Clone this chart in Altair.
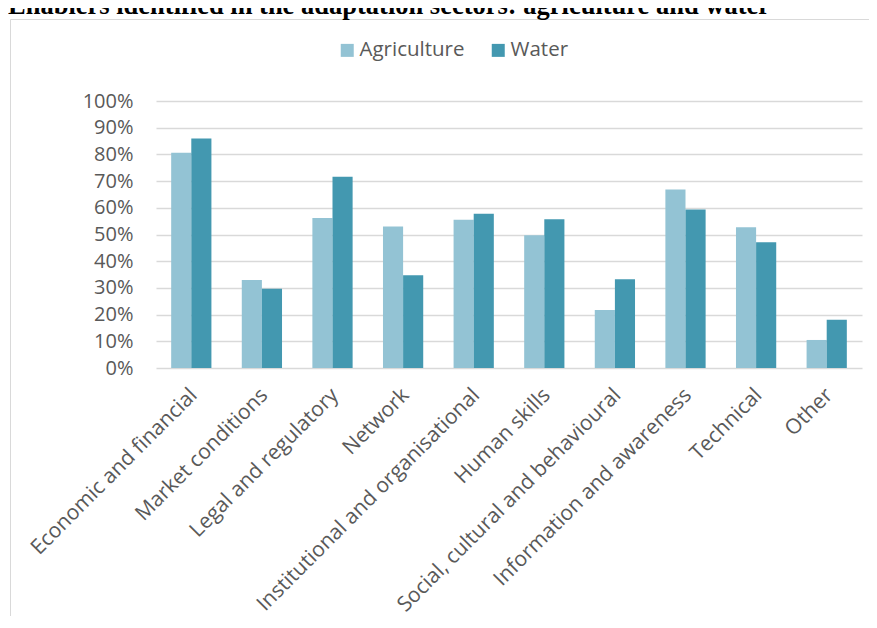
import altair as alt
import pandas as pd

title_text = "Enablers identified in the adaptation sectors: agriculture and water"
categories = [
    "Economic and financial",
    "Market conditions",
    "Legal and regulatory",
    "Network",
    "Institutional and organisational",
    "Human skills",
    "Social, cultural and behavioural",
    "Information and awareness",
    "Technical",
    "Other",
]
series = ["Agriculture", "Water"]
agriculture = [80.6, 33.0, 56.2, 53.0, 55.5, 49.7, 21.7, 66.9, 52.7, 10.5]
water = [86.0, 29.7, 71.6, 34.7, 57.8, 55.7, 33.2, 59.4, 47.1, 18.1]
colors = ["#93C3D4", "#4398B0"]
y_ticks = [i / 10 for i in range(11)]

rows = []
for c, a, w in zip(categories, agriculture, water):
    rows.append({"category": c, "series": "Agriculture", "value": a / 100})
    rows.append({"category": c, "series": "Water", "value": w / 100})
df = pd.DataFrame(rows)

FONT = "Open Sans"
TXT = "#595959"
W, H = 706, 267

bars = alt.Chart(df).mark_bar().encode(
    x=alt.X(
        "category:N",
        sort=categories,
        title=None,
        scale=alt.Scale(paddingInner=0.43, paddingOuter=0.215),
        axis=alt.Axis(
            labelAngle=-45,
            labelAlign="right",
            labelBaseline="top",
            labelPadding=16,
            labelOffset=-5,
            labelFont=FONT,
            labelFontSize=21,
            labelColor=TXT,
            labelLimit=500,
            ticks=False,
            domain=False,
            grid=False,
        ),
    ),
    xOffset=alt.XOffset("series:N", sort=series, scale=alt.Scale(paddingInner=0, paddingOuter=0)),
    y=alt.Y(
        "value:Q",
        title=None,
        scale=alt.Scale(domain=[0, 1], nice=False),
        axis=alt.Axis(
            values=y_ticks,
            format=".0%",
            labelFont=FONT,
            labelFontSize=20,
            labelColor=TXT,
            labelPadding=23,
            ticks=False,
            domain=False,
            grid=True,
            gridColor="#D9D9D9",
            gridWidth=1.4,
        ),
    ),
    color=alt.Color(
        "series:N",
        sort=series,
        scale=alt.Scale(domain=series, range=colors),
        legend=alt.Legend(
            title=None,
            orient="none",
            direction="horizontal",
            legendX=181,
            legendY=-61,
            symbolType="square",
            symbolSize=169,
            symbolStrokeWidth=0,
            labelFont=FONT,
            labelFontSize=20.5,
            labelColor=TXT,
            labelOffset=2,
            columnPadding=23,
            padding=0,
        ),
    ),
)

frame = alt.Chart(pd.DataFrame({"k": [0]})).mark_rect(
    fill="transparent", stroke="#D9D9D9", strokeWidth=1
).encode(
    x=alt.value(-145.5), x2=alt.value(W + 60), y=alt.value(-81.5), y2=alt.value(H + 400)
)

title = alt.Chart(pd.DataFrame({"t": [title_text]})).mark_text(
    font="Liberation Serif", fontWeight="bold", fontSize=26.5, align="left",
    baseline="alphabetic", color="#000000"
).encode(
    x=alt.value(-148), y=alt.value(-87), text="t:N"
)

chart = alt.layer(frame, bars, title).properties(
    width=W,
    height=H,
    autosize=alt.AutoSizeParams(type="none"),
    padding={"left": 148, "top": 93, "right": 7, "bottom": 248},
).configure_view(stroke=None)

chart.save("out.html", embed_options={"renderer": "svg", "actions": False})
